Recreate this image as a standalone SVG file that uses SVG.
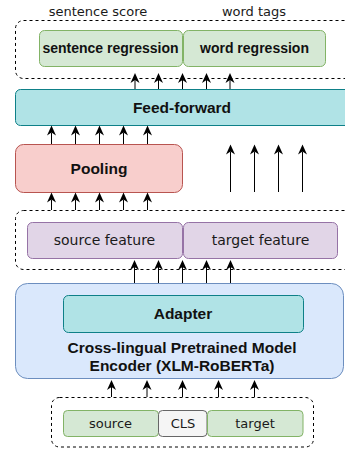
<svg xmlns="http://www.w3.org/2000/svg" width="345" height="450" viewBox="0 0 345 450">
<style>
.dash{fill:none;stroke:#000;stroke-width:1;stroke-dasharray:3 3}
.green{fill:#d5e8d4;stroke:#82b366;stroke-width:1}
.teal{fill:#b0e3e6;stroke:#0e8088;stroke-width:1}
.red{fill:#f8cecc;stroke:#b85450;stroke-width:1}
.purple{fill:#e1d5e7;stroke:#9673a6;stroke-width:1}
.blue{fill:#dae8fc;stroke:#6c8ebf;stroke-width:1}
.gray{fill:#f5f5f5;stroke:#666666;stroke-width:1}
.b{font-family:"Liberation Sans",Arial,sans-serif;font-weight:bold;fill:#111;text-anchor:middle}
.r{font-family:"DejaVu Sans",sans-serif;fill:#1a1a1a;text-anchor:middle}
.conn line{stroke:#000;stroke-width:1;marker-end:url(#ah)}
</style>
<defs>
<marker id="ah" markerUnits="userSpaceOnUse" markerWidth="12" markerHeight="10" viewBox="-11 -5 12 10" refX="-7" refY="0" orient="auto">
<path d="M0,0 L-10,-4.5 L-7,0 L-10,4.5 Z" fill="#000"/>
</marker>
</defs>

<g id="output-group">
<rect class="dash" x="15.5" y="20.5" width="345" height="58" rx="8"/>
<text class="r" x="98" y="16" font-size="13">sentence score</text>
<text class="r" x="254" y="16" font-size="13">word tags</text>
</g>
<g id="sentence-regression">
<rect class="green" x="39.5" y="30.5" width="143" height="36" rx="5"/>
<text class="b" x="110.5" y="53" font-size="14">sentence regression</text>
</g>
<g id="word-regression">
<rect class="green" x="183.5" y="30.5" width="142" height="36" rx="5"/>
<text class="b" x="254.5" y="53" font-size="14">word regression</text>
</g>

<g id="feed-forward">
<rect class="teal" x="15.5" y="89.5" width="345" height="36" rx="5"/>
<text class="b" x="182" y="113" font-size="15.5">Feed-forward</text>
</g>

<g id="pooling">
<rect class="red" x="15.5" y="144.5" width="167" height="48" rx="8"/>
<text class="b" x="99" y="174" font-size="15.5">Pooling</text>
</g>

<g id="feature-group">
<rect class="dash" x="15.5" y="210.5" width="345" height="59" rx="8"/>
</g>
<g id="source-feature">
<rect class="purple" x="27.5" y="222.5" width="155" height="36" rx="5"/>
<text class="r" x="104.5" y="244.5" font-size="14">source feature</text>
</g>
<g id="target-feature">
<rect class="purple" x="183.5" y="222.5" width="154" height="36" rx="5"/>
<text class="r" x="260.5" y="244.5" font-size="14">target feature</text>
</g>

<g id="encoder">
<rect class="blue" x="15.5" y="283.5" width="328" height="95" rx="12"/>
<text class="b" x="182" y="353.3" font-size="15.5">Cross-lingual Pretrained Model</text>
<text class="b" x="182" y="371.3" font-size="15.5">Encoder (XLM-RoBERTa)</text>
</g>
<g id="adapter">
<rect class="teal" x="63.5" y="295.5" width="240" height="37" rx="5"/>
<text class="b" x="183" y="318.5" font-size="15.5">Adapter</text>
</g>

<g id="input-group">
<rect class="dash" x="51.5" y="397.5" width="262" height="49.5" rx="8"/>
</g>
<g id="source">
<rect class="green" x="63.5" y="410.5" width="95" height="26" rx="4"/>
<text class="r" x="110.5" y="428" font-size="13">source</text>
</g>
<g id="cls">
<rect class="gray" x="158.5" y="410.5" width="48.5" height="26" rx="4"/>
<text class="r" x="183" y="428" font-size="13">CLS</text>
</g>
<g id="target">
<rect class="green" x="207.5" y="410.5" width="95.5" height="26" rx="4"/>
<text class="r" x="255" y="428" font-size="13">target</text>
</g>

<g id="connectors" class="conn">
<line x1="51.5" y1="144" x2="51.5" y2="132.5"/>
<line x1="75.5" y1="144" x2="75.5" y2="132.5"/>
<line x1="99.5" y1="144" x2="99.5" y2="132.5"/>
<line x1="123.5" y1="144" x2="123.5" y2="132.5"/>
<line x1="147.5" y1="144" x2="147.5" y2="132.5"/>

<line x1="51.5" y1="210" x2="51.5" y2="199.5"/>
<line x1="75.5" y1="210" x2="75.5" y2="199.5"/>
<line x1="99.5" y1="210" x2="99.5" y2="199.5"/>
<line x1="123.5" y1="210" x2="123.5" y2="199.5"/>
<line x1="147.5" y1="210" x2="147.5" y2="199.5"/>

<line x1="135" y1="89" x2="135" y2="80"/>
<line x1="158.5" y1="89" x2="158.5" y2="80"/>
<line x1="182.5" y1="89" x2="182.5" y2="80"/>
<line x1="206.5" y1="89" x2="206.5" y2="80"/>
<line x1="230" y1="89" x2="230" y2="80"/>

<line x1="230.5" y1="192" x2="230.5" y2="151.5"/>
<line x1="254.5" y1="192" x2="254.5" y2="151.5"/>
<line x1="278.5" y1="192" x2="278.5" y2="151.5"/>
<line x1="302.5" y1="192" x2="302.5" y2="151.5"/>

<line x1="134.5" y1="283" x2="134.5" y2="267"/>
<line x1="158.5" y1="283" x2="158.5" y2="267"/>
<line x1="182.5" y1="283" x2="182.5" y2="267"/>
<line x1="206.5" y1="283" x2="206.5" y2="267"/>
<line x1="230.5" y1="283" x2="230.5" y2="267"/>

<line x1="111.5" y1="397" x2="111.5" y2="387"/>
<line x1="147" y1="397" x2="147" y2="387"/>
<line x1="182.5" y1="397" x2="182.5" y2="387"/>
<line x1="218.5" y1="397" x2="218.5" y2="387"/>
<line x1="254.5" y1="397" x2="254.5" y2="387"/>
</g>
</svg>
